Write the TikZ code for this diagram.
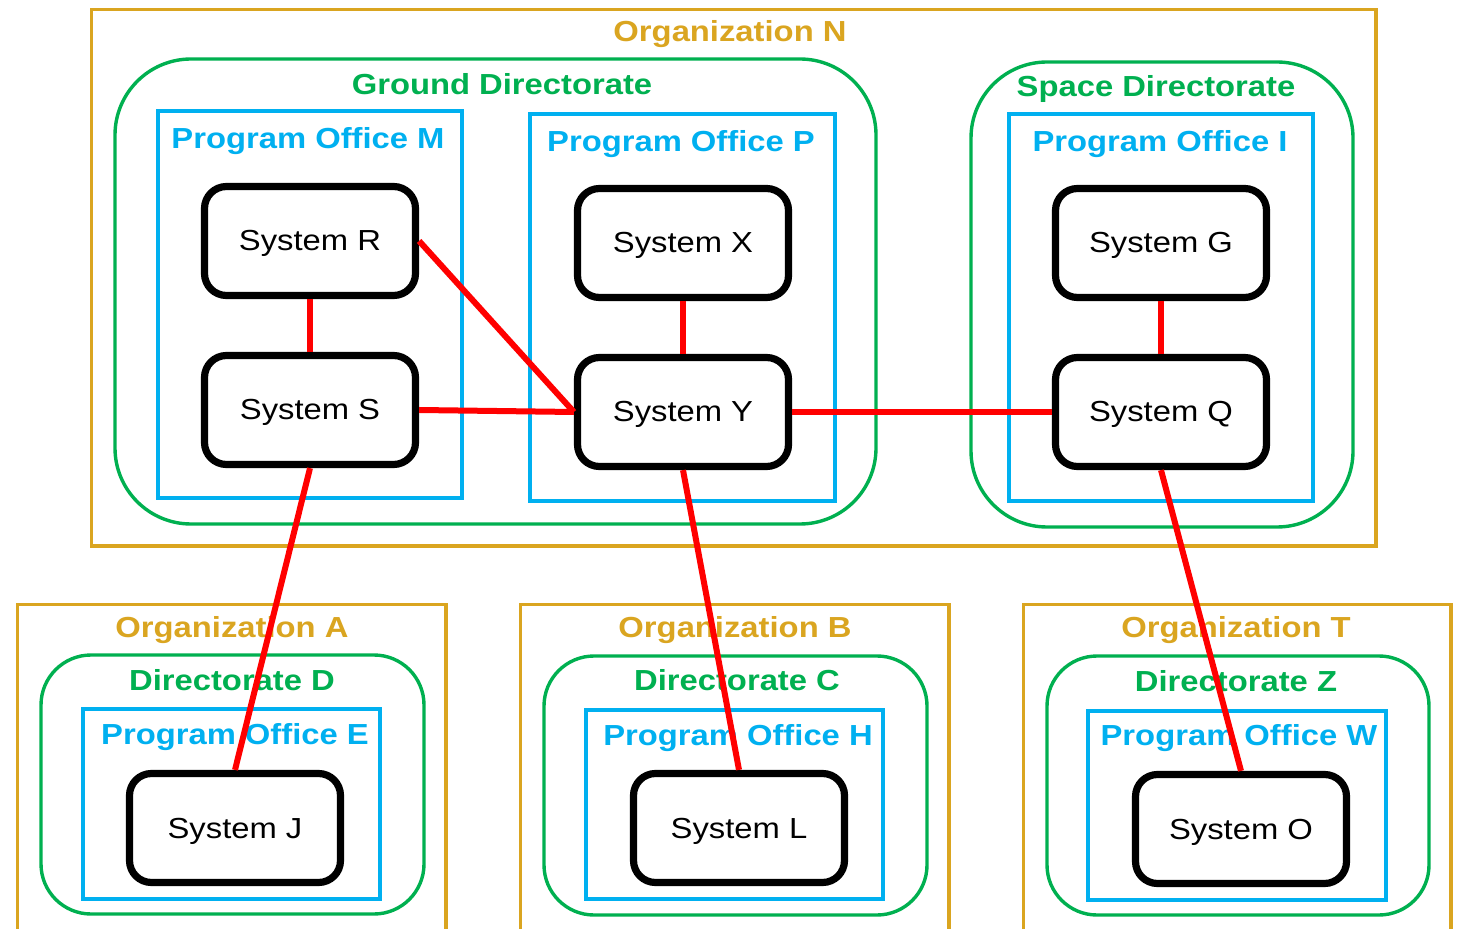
\documentclass[tikz,border=0pt]{standalone}
\usepackage{fontspec}
\setmainfont{Liberation Sans}[FakeStretch=1.13]
\definecolor{orgc}{RGB}{218,165,32}
\definecolor{dirc}{RGB}{0,176,80}
\definecolor{poc}{RGB}{0,176,240}
\definecolor{linkred}{RGB}{255,0,0}
\newcommand\lblsize{\fontsize{14.5pt}{17pt}\selectfont}
\tikzset{
  orgbox/.style={draw=orgc, line width=1.9pt},
  dirbox/.style={draw=dirc, line width=1.7pt, rounded corners=38pt},
  dirsmall/.style={draw=dirc, line width=1.7pt, rounded corners=25pt},
  pobox/.style={draw=poc, line width=1.9pt},
  sysbox/.style={draw=black, line width=3.6pt, rounded corners=11pt, fill=white,
    minimum width=105.5pt, minimum height=54.5pt, text height=10pt, text depth=0pt,
    inner sep=0pt, font=\lblsize},
  orglbl/.style={text=orgc, font=\lblsize\bfseries, anchor=base, inner sep=0pt},
  dirlbl/.style={text=dirc, font=\lblsize\bfseries, anchor=base, inner sep=0pt},
  polbl/.style={text=poc, font=\lblsize\bfseries, anchor=base, inner sep=0pt},
  link/.style={draw=linkred, line width=3pt}
}
\begin{document}
\begin{tikzpicture}[x=0.5pt,y=-0.5pt]
\fill[white] (0,0) rectangle (1460,929);
\useasboundingbox (0,0) rectangle (1460,929);

% Organization N with its two directorates
\draw[orgbox] (91.5,9.5) rectangle (1376,546);
\node[orglbl] (orgN) at (730,42) {Organization N};
\draw[dirbox] (115,59) rectangle (876,524);
\node[dirlbl] (ground) at (502,95) {Ground Directorate};
\draw[dirbox] (971,62) rectangle (1353,527);
\node[dirlbl] (space) at (1156,97) {Space Directorate};
\draw[pobox] (158,111) rectangle (462,498);
\node[polbl] (poM) at (308,149) {Program Office M};
\draw[pobox] (530,114) rectangle (835,501);
\node[polbl] (poP) at (681,152) {Program Office P};
\draw[pobox] (1009,114) rectangle (1313,501);
\node[polbl] (poI) at (1160,152) {Program Office I};

\node[sysbox] (R) at (310,241) {System R};
\node[sysbox] (S) at (310,410) {System S};
\node[sysbox] (X) at (683,243) {System X};
\node[sysbox] (Y) at (683,412) {System Y};
\node[sysbox] (G) at (1161,243) {System G};
\node[sysbox] (Q) at (1161,412) {System Q};

% Organization A
\draw[orgbox] (17.5,935) -- (17.5,604.5) -- (446,604.5) -- (446,935);
\node[orglbl] (orgA) at (232,637) {Organization A};
\draw[dirsmall] (41,655) rectangle (424,914);
\node[dirlbl] (dirD) at (232,690) {Directorate D};
\draw[pobox] (83,709) rectangle (380,899);
\node[polbl] (poE) at (235,744) {Program Office E};
\node[sysbox] (J) at (235,828) {System J};

% Organization B
\draw[orgbox] (520.5,935) -- (520.5,604.5) -- (949,604.5) -- (949,935);
\node[orglbl] (orgB) at (735,638) {Organization B};
\draw[dirsmall] (544,656) rectangle (927,915);
\node[dirlbl] (dirC) at (737,690) {Directorate C};
\draw[pobox] (586,710) rectangle (883,899);
\node[polbl] (poH) at (738,745) {Program Office H};
\node[sysbox] (L) at (739,828) {System L};

% Organization T
\draw[orgbox] (1023.5,935) -- (1023.5,604.5) -- (1451,604.5) -- (1451,935);
\node[orglbl] (orgT) at (1236,638) {Organization T};
\draw[dirsmall] (1047,656) rectangle (1429,915);
\node[dirlbl] (dirZ) at (1236,691) {Directorate Z};
\draw[pobox] (1088,711) rectangle (1386,900);
\node[polbl] (poW) at (1239,745) {Program Office W};
\node[sysbox] (O) at (1241,829) {System O};

% interfaces between systems
\draw[link] (R.south) -- (S.north);
\draw[link] (R.east) -- (Y.west);
\draw[link] (S.east) -- (Y.west);
\draw[link] (X.south) -- (Y.north);
\draw[link] (Y.east) -- (Q.west);
\draw[link] (G.south) -- (Q.north);
\draw[link] (S.south) -- (J.north);
\draw[link] (Y.south) -- (L.north);
\draw[link] (Q.south) -- (O.north);
\end{tikzpicture}
\end{document}
